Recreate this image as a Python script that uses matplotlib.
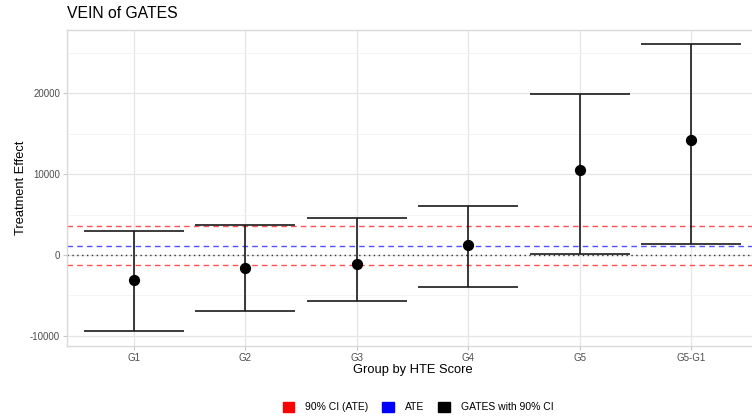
import matplotlib.pyplot as plt
from matplotlib.patches import Patch

plt.rcParams['font.family'] = ['Liberation Sans', 'DejaVu Sans']
plt.rcParams['axes.unicode_minus'] = False

# GATES estimates per HTE-score group with 90% confidence bounds
groups = ['G1', 'G2', 'G3', 'G4', 'G5', 'G5-G1']
gates = [-3090, -1650, -1150, 1240, 10490, 14200]
ci_lower = [-9470, -7000, -5680, -3990, 120, 1360]
ci_upper = [2960, 3700, 4530, 6090, 19910, 26090]

# Average treatment effect and its 90% CI
ate = 1110
ate_lower = -1240
ate_upper = 3620

W, H = 752, 419
fig = plt.figure(figsize=(W / 100, H / 100), dpi=100)
ax = fig.add_axes([67 / W, 1 - 345.7 / H, (758 - 67) / W, (345.7 - 30) / H])

x = list(range(1, len(groups) + 1))

# reference lines
ax.axhline(0, color='#333333', linestyle=(0, (1, 2.5)), linewidth=1.0, zorder=2)
ax.axhline(ate, color='#3333ff', linestyle=(0, (4, 3)), linewidth=1.0, alpha=0.85, zorder=2)
ax.axhline(ate_upper, color='#ff3333', linestyle=(0, (4, 3)), linewidth=1.0, alpha=0.85, zorder=2)
ax.axhline(ate_lower, color='#ff3333', linestyle=(0, (4, 3)), linewidth=1.0, alpha=0.85, zorder=2)

# error bars and points
for xi, lo, hi in zip(x, ci_lower, ci_upper):
    ax.vlines(xi, lo, hi, color='#1a1a1a', linewidth=1.2, zorder=3)
    ax.hlines([lo, hi], xi - 0.45, xi + 0.45, color='#1a1a1a', linewidth=1.2, zorder=3)
ax.scatter(x, gates, s=50, color='black', zorder=4)

ax.set_xlim(0.4, 6.6)
ax.set_ylim(-11250, 27860)
ax.set_xticks(x)
ax.set_xticklabels(groups)
ax.set_yticks([-10000, 0, 10000, 20000])
ax.set_yticks([-5000, 5000, 15000, 25000], minor=True)

ax.grid(True, which='major', color='#e5e5e5', linewidth=0.9)
ax.grid(True, which='minor', axis='y', color='#f2f2f2', linewidth=0.6)
ax.set_axisbelow(True)
for side in ax.spines.values():
    side.set_color('#d9d9d9')
    side.set_linewidth(1.0)
ax.tick_params(which='major', length=3, color='#c8c8c8', labelsize=7,
               labelcolor='#4d4d4d', pad=2)
ax.tick_params(which='minor', length=0)

ax.set_xlabel('Group by HTE Score', fontsize=9.3, labelpad=1)
ax.set_ylabel('Treatment Effect', fontsize=9.3, labelpad=2)
fig.text(67 / W, 1 - 14 / H, 'VEIN of GATES', fontsize=11.3, va='center', ha='left')

handles = [Patch(color='red', label='90% CI (ATE)'),
           Patch(color='blue', label='ATE'),
           Patch(color='black', label='GATES with 90% CI')]
fig.legend(handles=handles, loc='center', bbox_to_anchor=(418 / W, 1 - 407 / H),
           ncol=3, frameon=False, fontsize=7.5, handlelength=1.1, handleheight=1.1,
           handletextpad=1.05, columnspacing=1.35)

fig.savefig('out.png', dpi=100)
